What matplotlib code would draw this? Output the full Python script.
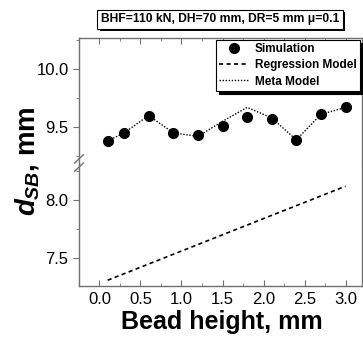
import matplotlib
matplotlib.use("Agg")
import matplotlib.pyplot as plt
from matplotlib.ticker import MultipleLocator
from matplotlib.patches import Rectangle

plt.rcParams['font.family'] = ['Liberation Sans', 'DejaVu Sans']
plt.rcParams['mathtext.fontset'] = 'custom'
plt.rcParams['mathtext.rm'] = 'Liberation Sans:bold'
plt.rcParams['mathtext.it'] = 'Liberation Sans:bold:italic'

# data
bead_height = [0.1, 0.3, 0.6, 0.9, 1.2, 1.5, 1.8, 2.1, 2.4, 2.7, 3.0]
simulation = [9.38, 9.45, 9.60, 9.45, 9.43, 9.51, 9.59, 9.57, 9.39, 9.61, 9.67]
meta_model = [9.38, 9.45, 9.60, 9.45, 9.42, 9.55, 9.67, 9.58, 9.39, 9.61, 9.67]
regression_x = [0.1, 3.0]
regression_y = [7.31, 8.12]

title_text = "BHF=110 kN, DH=70 mm, DR=5 mm \u03bc=0.1"

fig = plt.figure(figsize=(3.63, 3.42), dpi=100)
left, right = 0.2176, 0.997
mid, top, bottom = 0.5234, 0.889, 0.1637
ax_top = fig.add_axes([left, mid, right - left, top - mid])
ax_bot = fig.add_axes([left, bottom, right - left, mid - bottom], sharex=ax_top)

spine_col = '#707070'
for ax in (ax_top, ax_bot):
    ax.plot(bead_height, meta_model, linestyle=(0, (1, 1.2)), color='black', lw=1.0,
            label='Meta Model', zorder=2)
    ax.plot(regression_x, regression_y, linestyle=(0, (2.5, 2)), color='black', lw=1.2,
            label='Regression Model', zorder=2)
    ax.plot(bead_height, simulation, 'o', color='black', ms=7, label='Simulation', zorder=3)
    for s in ax.spines.values():
        s.set_color(spine_col)
        s.set_linewidth(1.0)
    ax.yaxis.set_major_locator(MultipleLocator(0.5))
    ax.yaxis.set_minor_locator(MultipleLocator(0.25))
    ax.xaxis.set_major_locator(MultipleLocator(0.5))
    ax.xaxis.set_minor_locator(MultipleLocator(0.25))
    ax.tick_params(axis='y', which='both', direction='out', left=True, right=True,
                   labelsize=12, color=spine_col)
    ax.tick_params(axis='y', which='major', length=4)
    ax.tick_params(axis='y', which='minor', length=2.5)
    ax.tick_params(axis='x', which='both', direction='in', top=True, bottom=True,
                   color=spine_col)
    ax.tick_params(axis='x', which='major', length=4)
    ax.tick_params(axis='x', which='minor', length=2.5)
    ax.yaxis.set_major_formatter(plt.FormatStrFormatter('%.1f'))

ax_top.set_ylim(9.19, 10.27)
ax_bot.set_ylim(7.26, 8.32)
ax_top.set_xlim(-0.25, 3.2)
ax_top.spines['bottom'].set_visible(False)
ax_bot.spines['top'].set_visible(False)
ax_top.tick_params(axis='x', which='both', bottom=False, labelbottom=False)
ax_bot.tick_params(axis='x', which='both', top=False, labelsize=12, pad=4)
ax_bot.xaxis.set_major_formatter(plt.FormatStrFormatter('%.1f'))

# break marks on the left spine
for dy in (-0.012, 0.012):
    fig.add_artist(plt.Line2D([left - 0.012, left + 0.012], [mid + dy - 0.012, mid + dy + 0.012],
                              color=spine_col, lw=1.0, transform=fig.transFigure))

handles, labels = ax_top.get_legend_handles_labels()
order = [2, 1, 0]
leg = ax_top.legend([handles[i] for i in order], [labels[i] for i in order],
                    loc='upper right', fancybox=False, edgecolor='black', framealpha=1,
                    shadow={'color': 'black', 'alpha': 1}, borderaxespad=0.15,
                    prop={'weight': 'bold', 'size': 8.5}, handlelength=2.4,
                    handletextpad=0.6, borderpad=0.3, labelspacing=0.35)
leg.get_frame().set_linewidth(0.8)

# title box, shadow drawn as a rectangle behind it
title = fig.text(0.606, 0.944, title_text, ha='center', va='center', fontsize=8.7,
                 weight='bold', zorder=5,
                 bbox=dict(boxstyle='square,pad=0.3', fc='white', ec='black', lw=0.8))
fig.canvas.draw()
bb = title.get_bbox_patch().get_window_extent()
fig.add_artist(Rectangle((bb.x0 + 2.5, bb.y0 - 2.5), bb.width, bb.height,
                         transform=None, fc='black', ec='none', zorder=4))

fig.text(0.075, 0.529, r'$d_{SB}$, mm', rotation=90, ha='center', va='center',
         fontsize=20, weight='bold')
fig.text(0.612, 0.058, 'Bead height, mm', ha='center', va='center', fontsize=18,
         weight='bold')

fig.savefig('out.png', dpi=100)
